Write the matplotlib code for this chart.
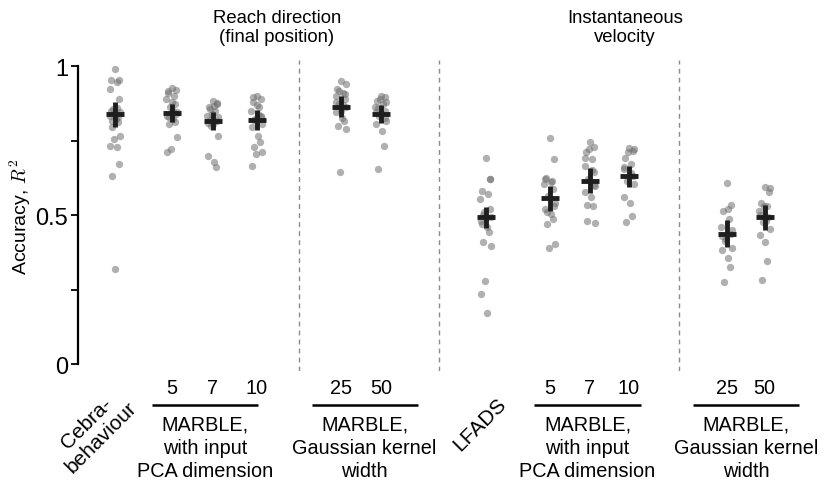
import matplotlib
matplotlib.use("Agg")
import matplotlib.pyplot as plt
import numpy as np

plt.rcParams["font.family"] = ["Liberation Sans", "DejaVu Sans"]
plt.rcParams["mathtext.fontset"] = "cm"

# decoding accuracy (R^2) per session, one list per method
cebra = [0.99, 0.954, 0.954, 0.945, 0.923, 0.889, 0.856, 0.845, 0.833, 0.822,
         0.811, 0.795, 0.766, 0.755, 0.733, 0.727, 0.671, 0.632, 0.319, 0.85,
         0.83, 0.84, 0.86, 0.815]
reach_pca5 = [0.928, 0.92, 0.911, 0.9, 0.889, 0.872, 0.861, 0.845, 0.833, 0.822,
              0.811, 0.805, 0.761, 0.721, 0.711, 0.85, 0.84, 0.83, 0.88, 0.915]
reach_pca7 = [0.884, 0.872, 0.861, 0.85, 0.833, 0.816, 0.8, 0.766, 0.699, 0.677,
              0.66, 0.82, 0.83, 0.84, 0.81, 0.865, 0.875, 0.855, 0.805]
reach_pca10 = [0.9, 0.889, 0.878, 0.861, 0.85, 0.833, 0.822, 0.805, 0.795, 0.766,
               0.744, 0.727, 0.711, 0.705, 0.666, 0.84, 0.83, 0.82, 0.87, 0.895]
reach_k25 = [0.951, 0.94, 0.923, 0.911, 0.9, 0.889, 0.872, 0.861, 0.845, 0.827,
             0.816, 0.8, 0.789, 0.643, 0.88, 0.87, 0.905, 0.915, 0.85]
reach_k50 = [0.9, 0.895, 0.884, 0.872, 0.861, 0.85, 0.833, 0.816, 0.805, 0.783,
             0.733, 0.653, 0.88, 0.89, 0.845, 0.84, 0.825, 0.86]
lfads = [0.693, 0.621, 0.582, 0.57, 0.554, 0.52, 0.509, 0.492, 0.481, 0.459,
         0.442, 0.408, 0.397, 0.28, 0.235, 0.17, 0.62, 0.5, 0.49, 0.47]
vel_pca5 = [0.757, 0.688, 0.626, 0.615, 0.604, 0.587, 0.565, 0.542, 0.52, 0.503,
            0.487, 0.47, 0.403, 0.391, 0.62, 0.61, 0.53, 0.51]
vel_pca7 = [0.744, 0.727, 0.71, 0.688, 0.666, 0.643, 0.621, 0.598, 0.576, 0.559,
            0.531, 0.481, 0.473, 0.72, 0.69, 0.65, 0.6, 0.535]
vel_pca10 = [0.724, 0.716, 0.69, 0.671, 0.654, 0.632, 0.615, 0.604, 0.559, 0.54,
             0.496, 0.475, 0.72, 0.71, 0.66, 0.64]
vel_k25 = [0.606, 0.535, 0.514, 0.487, 0.459, 0.436, 0.414, 0.391, 0.384, 0.356,
           0.327, 0.274, 0.45, 0.42, 0.43, 0.52]
vel_k50 = [0.593, 0.576, 0.542, 0.531, 0.514, 0.492, 0.475, 0.453, 0.433, 0.408,
           0.345, 0.283, 0.59, 0.53, 0.5, 0.48]

groups = [cebra, reach_pca5, reach_pca7, reach_pca10, reach_k25, reach_k50,
          lfads, vel_pca5, vel_pca7, vel_pca10, vel_k25, vel_k50]

# group means and error half-widths shown as crosses
means = [0.839, 0.842, 0.816, 0.818, 0.864, 0.839,
         0.492, 0.557, 0.615, 0.630, 0.438, 0.492]
errs = [0.042, 0.030, 0.031, 0.033, 0.036, 0.030,
        0.035, 0.042, 0.042, 0.036, 0.045, 0.042]

sub_labels = ["", "5", "7", "10", "25", "50", "", "5", "7", "10", "25", "50"]
bracket_labels = ["MARBLE,\nwith input\nPCA dimension",
                  "MARBLE,\nGaussian kernel\nwidth"] * 2
panel_titles = ["Reach direction\n(final position)", "Instantaneous\nvelocity"]

# layout
pos = [0, 1.37, 2.36, 3.42, 5.45, 6.41, 8.94, 10.48, 11.45, 12.39, 14.75, 15.66]
dividers = [4.43, 7.81, 13.59]
bracket_centers = [2.17, 6.02, 11.39, 15.22]
bracket_half = 1.28
jitter = [0.0, 0.11, -0.09, 0.05, -0.13, 0.09, -0.04, 0.13, -0.11, 0.02,
          0.07, -0.07, 0.12, -0.02, -0.12, 0.04, 0.1, -0.06, 0.01, -0.1,
          0.08, -0.03, 0.06, -0.08]

fig = plt.figure(figsize=(8.26, 4.85), dpi=100)
ax = fig.add_axes([0.0944, 0.232, 0.886, 0.642])

for x, vals in zip(pos, groups):
    xs = [x + jitter[i % len(jitter)] for i in range(len(vals))]
    ax.scatter(xs, vals, s=28, color="#707070", alpha=0.55, linewidths=0, zorder=2)

for x, m, e in zip(pos, means, errs):
    ax.errorbar(x, m, yerr=e, fmt="_", ms=13, mew=3.5, elinewidth=3.5,
                capsize=0, color="#1e1e1e", zorder=3)

for d in dividers:
    ax.axvline(d, color="#8c8c8c", lw=1, ls=(0, (3.5, 3)), zorder=1)

ax.set_xlim(-0.89, 16.75)
ax.set_ylim(-0.025, 1.02)
for s in ["top", "right", "bottom"]:
    ax.spines[s].set_visible(False)
ax.spines["left"].set_bounds(0, 1)
ax.spines["left"].set_linewidth(1.6)
ax.set_xticks([])
ax.set_yticks([0, 0.25, 0.5, 0.75, 1])
ax.set_yticklabels(["0", "", "0.5", "", "1"], fontsize=17)
ax.tick_params(axis="y", length=5, width=1.3, pad=2)
ax.set_ylabel("Accuracy, $R^2$", fontsize=14, labelpad=2)

tr = ax.get_xaxis_transform()

# numbers under each MARBLE variant
for x, lab in zip(pos, sub_labels):
    if lab:
        ax.text(x, -0.05, lab, transform=tr, ha="center", va="center",
                fontsize=14.3, clip_on=False)

# brackets with group descriptions
for c, lab in zip(bracket_centers, bracket_labels):
    ax.plot([c - bracket_half, c + bracket_half], [-0.108, -0.108], transform=tr,
            color="black", lw=1.8, clip_on=False, solid_capstyle="butt")
    ax.text(c, -0.138, lab, transform=tr, ha="center", va="top", fontsize=14.3,
            linespacing=1.28, clip_on=False)

ax.text(-0.05, -0.04, "Cebra-\nbehaviour", transform=tr, rotation=45,
        rotation_mode="anchor", ha="right", va="top", fontsize=15,
        multialignment="center", linespacing=1.05, clip_on=False)
ax.text(9.2, -0.07, "LFADS", transform=tr, rotation=45,
        rotation_mode="anchor", ha="right", va="top", fontsize=15, clip_on=False)

ax.text(3.9, 1.165, panel_titles[0], transform=tr, ha="center", va="top",
        fontsize=13.3, linespacing=1.15, clip_on=False)
ax.text(12.29, 1.165, panel_titles[1], transform=tr, ha="center", va="top",
        fontsize=13.3, linespacing=1.15, clip_on=False)

fig.savefig("out.png", dpi=100)
